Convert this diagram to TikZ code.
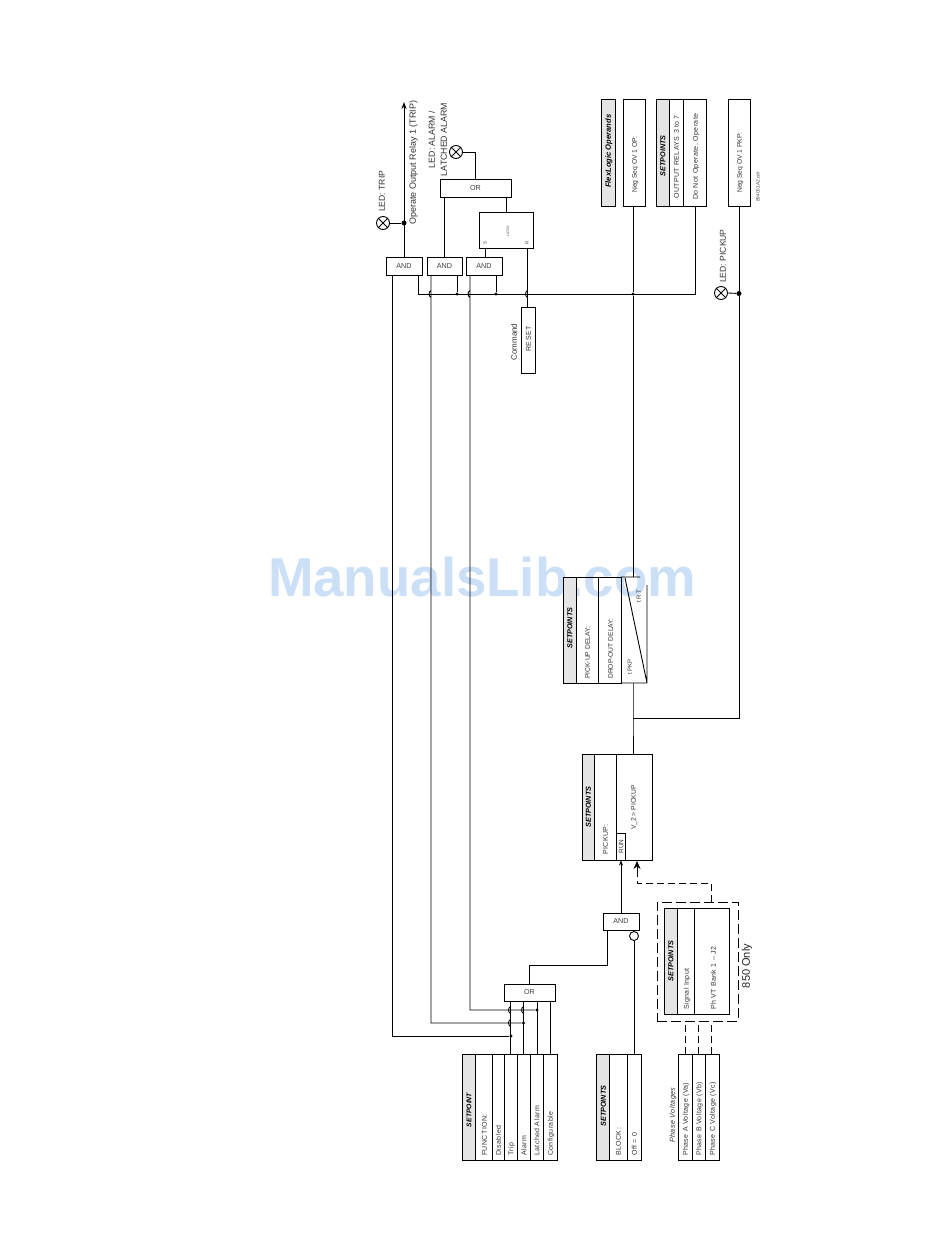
\documentclass[tikz,border=0pt]{standalone}
\usepackage{fontspec}
\setmainfont{Liberation Sans}
\usetikzlibrary{arrows.meta}
\definecolor{wmblue}{HTML}{CBE0F6}
\tikzset{
  wire/.style={line width=0.9pt,line join=miter},
  dash wire/.style={wire,dash pattern=on 7pt off 4pt},
  long dash/.style={dash pattern=on 10pt off 4pt},
  cellbox/.style={draw,line width=0.9pt,inner sep=0pt,outer sep=0pt},
  gatebox/.style={cellbox,fill=white,font=\fontsize{7.2}{8}\selectfont,text=black!75},
  hdr/.style={fill=black!10},
  vtext/.style={rotate=90,inner sep=0pt,text height=1.4ex,text depth=.3ex,text=black!80,font=\fontsize{6.7}{8}\selectfont},
  vwide/.style={vtext,font=\fontsize{7}{8}\selectfont\addfontfeatures{LetterSpace=6}},
  vhead/.style={vtext,text=black,font=\fontsize{7.2}{8}\selectfont\bfseries\itshape},
  vlabel/.style={vtext,font=\fontsize{8.6}{9.5}\selectfont},
  dotnode/.style={circle,fill=black,inner sep=0pt,minimum size=3.4pt},
  bigdot/.style={circle,fill=black,inner sep=0pt,minimum size=5pt},
  lampnode/.style={circle,draw,line width=0.9pt,inner sep=0pt,minimum size=13pt},
}
\newcommand{\cell}[6][]{\node[cellbox,#1,minimum width={(#4-#3)*1pt},minimum height={(#6-#5)*1pt}] (#2) at ({(#3+#4)/2},{(#5+#6)/2}) {};}
\newcommand{\gate}[6]{\node[gatebox,minimum width={(#3-#2)*1pt},minimum height={(#5-#4)*1pt}] (#1) at ({(#2+#3)/2},{(#4+#5)/2}) {#6};}
\newcommand{\lamp}[3]{\node[lampnode] (#1) at (#2,#3) {};\draw[wire] (#1.45)--(#1.225) (#1.135)--(#1.315);}
\newcommand{\hop}[2]{-- (#1,#2+3.5) .. controls (#1-2.6,#2+2) and (#1-2.6,#2-2) .. (#1,#2-3.5)}
\begin{document}
\begin{tikzpicture}[x=1pt,y=-1pt]
\useasboundingbox[fill=white] (0,0) rectangle (950,1260);
% watermark
\node[font=\fontsize{54.6}{60}\selectfont\bfseries,text=wmblue,inner sep=0pt] (wm) at (482,577) {ManualsLib.com};

% ---- gates
\gate{and1}{386}{422}{257}{275}{AND}
\gate{and2}{427}{462}{257}{275}{AND}
\gate{and3}{466}{502}{257}{275}{AND}
\gate{orA}{440}{511}{179}{197}{OR}
\gate{orB}{504}{555}{984}{1001}{OR}
\gate{and4}{603}{639}{913}{930}{AND}
\cell{latch}{479}{533}{212}{248}
\node[font=\fontsize{3.4}{4}\selectfont,rotate=90,text=black!70] (latchT) at (508,231) {LATCH};
\node[font=\fontsize{4.5}{5}\selectfont,rotate=90,text=black!80,inner sep=0pt] (latchS) at (485,243) {S};
\node[font=\fontsize{4.5}{5}\selectfont,rotate=90,text=black!80,inner sep=0pt] (latchR) at (527,243) {R};

% ---- RESET
\cell{reset}{521}{535}{307}{373}
\node[vwide,font=\fontsize{7}{8}\selectfont\addfontfeatures{LetterSpace=8}] (resetT) at (528,339) {RESET};
\node[vlabel,font=\fontsize{8}{9}\selectfont] (cmdT) at (514,342) {Command};

% ---- top right
\cell[hdr]{flex}{601}{615}{99}{206}
\node[vhead,anchor=west,font=\fontsize{7.6}{8}\selectfont\bfseries\itshape] (flexT) at (608,188) {FlexLogic Operands};
\cell{negop}{623}{645}{99}{206}
\node[vtext,anchor=west] (negopT) at (634,193) {Neg Seq OV 1 OP:};
\cell[hdr]{relH}{656}{669}{99}{206}
\cell{relA}{669}{683}{99}{206}
\cell{relB}{683}{706}{99}{206}
\node[vhead,anchor=center] (relHT) at (662.5,156) {SETPOINTS};
\node[vwide,anchor=west] (relAT) at (676,199) {OUTPUT RELAYS 3 to 7};
\node[vwide,anchor=west] (relBT) at (695,200) {Do Not Operate, Operate};
\cell{negpk}{728}{750}{99}{206}
\node[vtext,anchor=west] (negpkT) at (739,193) {Neg Seq OV 1 PKP:};
\node[font=\fontsize{4.8}{5}\selectfont,rotate=90,anchor=west,inner sep=0pt,text=black!70] (code) at (758,202) {894051A2.cdr};

% ---- timer table
\cell[hdr]{tmH}{563}{576}{577}{683}
\cell{tmA}{576}{598}{577}{683}
\cell{tmB}{598}{621}{577}{683}
\node[vhead] (tmHT) at (569.5,628) {SETPOINTS};
\node[vtext,anchor=west] (tmAT) at (587,679) {PICK-UP DELAY:};
\node[vtext,anchor=west] (tmBT) at (610,679) {DROP-OUT DELAY:};
\coordinate (tmTR) at (647,585);
\coordinate (tmBR) at (647,683);
\coordinate (tmBL) at (621,683);
\coordinate (tmTL) at (621,577);
\coordinate (tmTM) at (640,577);
\coordinate (tmDg) at (625,578);
\draw[wire] (tmTR)--(tmBR)--(tmBL) (tmTL)--(tmTM) (tmDg)--(tmBR);
\node[vtext,font=\fontsize{6}{7}\selectfont] (tpk) at (629,667) {t PKP};
\node[vtext,font=\fontsize{6}{7}\selectfont] (trt) at (638,596) {t R T};

% ---- pickup table
\cell[hdr]{pkH}{582}{594}{754}{860}
\cell{pkA}{594}{616}{754}{860}
\cell{pkB}{616}{652}{754}{860}
\cell{runb}{616}{625}{833}{860}
\node[vhead] (pkHT) at (588,807) {SETPOINTS};
\node[vwide,anchor=west] (pkAT) at (605,855) {PICKUP:};
\node[vtext,font=\fontsize{6.4}{7}\selectfont] (runT) at (620.5,846.5) {RUN};
\node[vtext,anchor=west] (pkBT) at (633,830) {V\_2 > PICKUP};

% ---- SETPOINT function table
\cell[hdr]{fnH}{462}{475}{1054}{1160}
\cell{fnA}{475}{492}{1054}{1160}
\cell{fnB}{492}{504}{1054}{1160}
\cell{fnC}{504}{517}{1054}{1160}
\cell{fnD}{517}{530}{1054}{1160}
\cell{fnE}{530}{543}{1054}{1160}
\cell{fnF}{543}{557}{1054}{1160}
\node[vhead,font=\fontsize{6.8}{8}\selectfont\bfseries\itshape] (fnHT) at (468.5,1110) {SETPOINT};
\node[vwide,anchor=west] (fnAT) at (484,1156) {FUNCTION:};
\node[vwide,anchor=west] (fnBT) at (498,1156) {Disabled};
\node[vwide,anchor=west] (fnCT) at (510.5,1156) {Trip};
\node[vwide,anchor=west] (fnDT) at (523.5,1156) {Alarm};
\node[vwide,anchor=west] (fnET) at (536.5,1156) {Latched Alarm};
\node[vwide,anchor=west] (fnFT) at (550,1156) {Configurable};

% ---- BLOCK table
\cell[hdr]{blH}{596}{609.5}{1054}{1160}
\cell{blA}{609.5}{627}{1054}{1160}
\cell{blB}{627}{641}{1054}{1160}
\node[vhead] (blHT) at (603,1106) {SETPOINTS};
\node[vwide,anchor=west] (blAT) at (618,1156) {BLOCK:};
\node[vwide,anchor=west] (blBT) at (634,1156) {Off = 0};

% ---- phase voltages
\node[vwide,anchor=west,font=\fontsize{7.2}{8}\selectfont\itshape\addfontfeatures{LetterSpace=6}] (phT) at (672,1143) {Phase Voltages};
\cell{phA}{678}{692}{1054}{1160}
\cell{phB}{692}{705}{1054}{1160}
\cell{phC}{705}{719}{1054}{1160}
\node[vwide,anchor=west] (phAT) at (685,1156) {Phase A Voltage (Va)};
\node[vwide,anchor=west] (phBT) at (698.5,1156) {Phase B Voltage (Vb)};
\node[vwide,anchor=west] (phCT) at (712,1156) {Phase C Voltage (Vc)};

% ---- signal input
\cell[dash wire,long dash]{dbox}{657}{738}{902}{1021}
\cell[hdr]{siH}{664}{677}{908}{1014}
\cell{siA}{677}{694}{908}{1014}
\cell{siB}{694}{729}{908}{1014}
\node[vhead] (siHT) at (670.5,961) {SETPOINTS};
\node[vwide,anchor=west] (siAT) at (686,1010) {Signal Input};
\node[vwide,anchor=west] (siBT) at (713,1010) {Ph VT Bank 1 – J2};
\node[rotate=90,inner sep=0pt,font=\fontsize{11}{12}\selectfont,text=black!85] (only) at (747,966) {850 Only};

% ---- lamps and their labels
\lamp{lt}{383}{223}
\lamp{la}{456}{152}
\lamp{lp}{721}{293}
\node[vlabel,anchor=west] (ltT) at (382,212) {LED: TRIP};
\node[vlabel,anchor=west,font=\fontsize{9}{9.5}\selectfont] (opT) at (413,225) {Operate Output Relay 1 (TRIP)};
\node[vlabel,align=center,font=\fontsize{8.8}{12}\selectfont] (laT) at (444,139.5) {LED: ALARM /\\LATCHED ALARM};
\node[vlabel,anchor=west] (lpT) at (723,283) {LED: PICKUP};

% ---- named junctions
\coordinate (arrowEnd) at (404,102);
\coordinate (a1out) at (404,257);
\node[bigdot] (jt) at (404,223) {};
\coordinate (a1L) at (392,275);
\coordinate (a1R) at (418,275);
\coordinate (a2L) at (431,275);
\coordinate (a2R) at (457,275);
\coordinate (a3L) at (470,275);
\coordinate (a3R) at (496,275);
\node[dotnode] (j2) at (457,294) {};
\node[dotnode] (j3) at (496,294) {};
\node[dotnode] (jop) at (633,294) {};
\coordinate (busL) at (418,294);
\coordinate (busR) at (695,294);
\node[bigdot] (jp) at (739,293.5) {};
\coordinate (jt2) at (633,718);
\coordinate (jtc) at (739,718);
\node[dotnode] (fTrip) at (511,1036) {};
\node[dotnode] (fAlarm) at (523.5,1023) {};
\node[dotnode] (fLatch) at (537,1010) {};
\node[circle,draw,line width=0.9pt,inner sep=0pt,minimum size=9pt,fill=white] (inv) at (634,936) {};

% ---- connectors
\draw[wire,-{Stealth[length=7pt,width=5pt]}] (a1out) -- (arrowEnd);
\draw[wire] (lt.east) -- (jt);
\draw[wire] (la.east) -| (orA.north);
\draw[wire] (orA.south -| 444,0) -- (and2.north -| 444,0);
\draw[wire] (orA.south -| 506,0) -- (latch.north -| 506,0);
\draw[wire] (latch.south -| 485,0) -- (and3.north -| 485,0);
\draw[wire] (latch.south -| 527.5,0) \hop{527.5}{294} -- (reset.north -| 527.5,0);
\draw[wire] (busL) -- (busR) -- (relB.south -| busR);
\draw[wire] (a1R) -- (busL);
\draw[wire] (a2R) -- (j2);
\draw[wire] (a3R) -- (j3);
\draw[wire] (negop.south -| jop) -- (jop) -- (tmTL -| jop);
\draw[wire] (negpk.south -| jp) -- (jp) -- (jtc) -- (jt2);
\draw[wire] (lp.east) -- (jp);
\draw[wire] (tmBL -| jt2) -- (jt2) -- (pkB.north -| jt2);
\draw[wire] (a1L) |- (fTrip);
\draw[wire] (a2L) \hop{431}{294} |- (fAlarm);
\draw[wire] (a3L) \hop{470}{294} |- (fLatch);
\draw[wire] (orB.south -| 510.5,0) \hop{510.5}{1010} \hop{510.5}{1023} -- (fnC.north -| 510.5,0);
\draw[wire] (orB.south -| 523.5,0) \hop{523.5}{1010} -- (fnD.north -| 523.5,0);
\draw[wire] (orB.south -| 537,0) -- (fnE.north -| 537,0);
\draw[wire] (orB.south -| 550,0) -- (fnF.north -| 550,0);
\draw[wire] (orB.north) |- (607,965) -- (and4.south -| 607,0);
\draw[wire,-{Stealth[length=5pt,width=4pt]}] (and4.north -| 621,0) -- (621,860.5);
\draw[wire] (inv.south) -- (blB.north -| inv);
\draw[dash wire] (phA.north) -- (dbox.south -| phA);
\draw[dash wire] (phB.north -| 698,0) -- (dbox.south -| 698,0);
\draw[dash wire] (phC.north -| 711,0) -- (dbox.south -| 711,0);
\draw[dash wire] (dbox.north -| 711,0) |- (637,883) -- (637,871);
\coordinate (dashTip) at (637,861);
\draw[wire,-{Stealth[length=8pt,width=7pt]}] (637,871) -- (dashTip);
\end{tikzpicture}
\end{document}
